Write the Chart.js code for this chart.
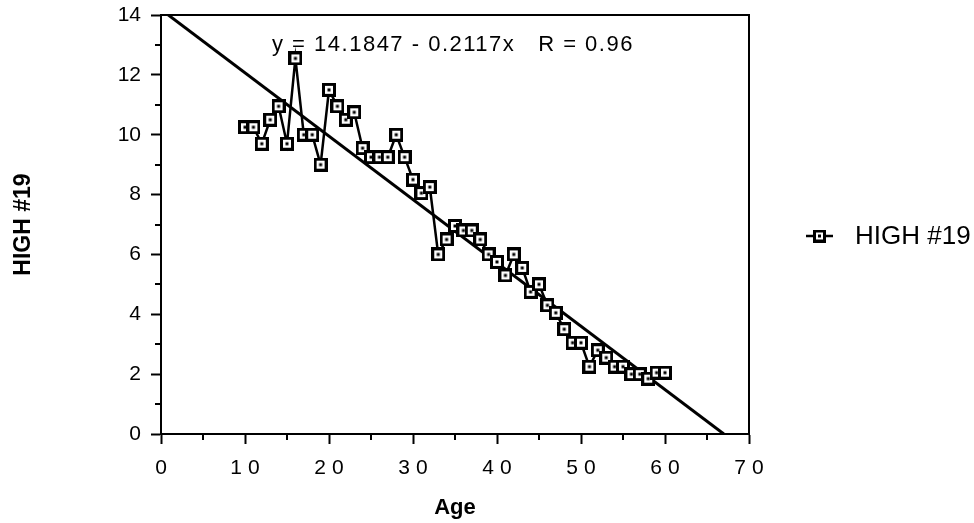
<!DOCTYPE html>
<html>
<head>
<meta charset="utf-8">
<script src="https://cdn.jsdelivr.net/npm/chart.js@4"></script>
<style>
  html, body { margin: 0; padding: 0; background: #fff; }
  #chart { display: block; }
</style>
</head>
<body>
<canvas id="chart" width="974" height="523"></canvas>
<script>
const ages = [10, 11, 12, 13, 14, 15, 16, 17, 18, 19, 20, 21, 22, 23, 24, 25, 26, 27, 28, 29, 30, 31, 32, 33, 34, 35, 36, 37, 38, 39, 40, 41, 42, 43, 44, 45, 46, 47, 48, 49, 50, 51, 52, 53, 54, 55, 56, 57, 58, 59, 60];
const highValues = [10.25, 10.25, 9.7, 10.5, 10.95, 9.7, 12.55, 10.0, 10.0, 9.0, 11.5, 10.95, 10.5, 10.75, 9.55, 9.25, 9.25, 9.25, 10.0, 9.25, 8.5, 8.05, 8.25, 6.0, 6.5, 6.95, 6.8, 6.8, 6.5, 6.0, 5.75, 5.3, 6.0, 5.55, 4.75, 5.0, 4.3, 4.05, 3.5, 3.05, 3.05, 2.25, 2.8, 2.55, 2.25, 2.25, 2.0, 2.0, 1.85, 2.05, 2.05];
const xTickLabels = ["0", "10", "20", "30", "40", "50", "60", "70"];
const yTickLabels = ["0", "2", "4", "6", "8", "10", "12", "14"];
const xMinorTicks = [5, 15, 25, 35, 45, 55, 65];
const yMinorTicks = [1, 3, 5, 7, 9, 11, 13];
const seriesName = "HIGH #19";
const fitIntercept = 14.1847;
const fitSlope = -0.2117;
const fitLabel = "y = 14.1847 - 0.2117x   R = 0.96";

const FONT = "'Liberation Sans', Arial, Helvetica, sans-serif";

function makeMarker(size) {
  const c = document.createElement("canvas");
  c.width = size;
  c.height = size;
  const g = c.getContext("2d");
  g.fillStyle = "#000";
  g.fillRect(0, 0, size, size);
  g.fillStyle = "#fff";
  g.fillRect(3, 3, size - 6, size - 6);
  g.fillStyle = "#000";
  g.fillRect(size / 2 - 1.5, size / 2 - 1.5, 3, 3);
  return c;
}
const marker = makeMarker(14);
const legendMarker = makeMarker(13);

const points = ages.map((age, i) => ({ x: age, y: highValues[i] }));
const fitEnd = -fitIntercept / fitSlope;
const fitPoints = [{ x: 0, y: fitIntercept }, { x: fitEnd, y: fitIntercept + fitSlope * fitEnd }];

// x tick labels in the original are spaced out; they are drawn after the datasets
const spacingPlugin = {
  id: "spacing",
  afterDatasetsDraw(chart) { chart.ctx.letterSpacing = "6px"; },
  afterDraw(chart) { chart.ctx.letterSpacing = "0px"; }
};

const framePlugin = {
  id: "frame",
  afterDraw(chart) {
    const { ctx, chartArea: a, scales } = chart;
    ctx.save();
    ctx.letterSpacing = "0px";
    ctx.strokeStyle = "#000";
    ctx.lineWidth = 2;
    ctx.strokeRect(a.left, a.top, a.right - a.left, a.bottom - a.top);
    ctx.beginPath();
    yMinorTicks.forEach((v) => {
      const y = Math.round(scales.y.getPixelForValue(v));
      ctx.moveTo(a.left - 6, y);
      ctx.lineTo(a.left, y);
    });
    xMinorTicks.forEach((v) => {
      const x = Math.round(scales.x.getPixelForValue(v));
      ctx.moveTo(x, a.bottom);
      ctx.lineTo(x, a.bottom + 6);
    });
    ctx.stroke();
    // equation text inside the plot
    ctx.fillStyle = "#000";
    ctx.font = "22px " + FONT;
    ctx.letterSpacing = "1.5px";
    ctx.textAlign = "left";
    ctx.textBaseline = "middle";
    ctx.fillText(fitLabel, a.left + 111, a.top + 30);
    // legend at right
    const ly = 236;
    ctx.letterSpacing = "0px";
    ctx.lineWidth = 2.5;
    ctx.beginPath();
    ctx.moveTo(806, ly);
    ctx.lineTo(833, ly);
    ctx.stroke();
    ctx.drawImage(legendMarker, 819.5 - 6.5, ly - 6.5);
    ctx.font = "26px " + FONT;
    ctx.fillText(seriesName, 855, ly + 1);
    ctx.restore();
  }
};

new Chart(document.querySelector("#chart"), {
  type: "scatter",
  data: {
    datasets: [
      {
        label: seriesName,
        data: points,
        showLine: true,
        borderColor: "#000",
        borderWidth: 2.5,
        pointStyle: marker,
        pointRadius: 7,
        pointHoverRadius: 7
      },
      {
        label: "fit",
        data: fitPoints,
        showLine: true,
        borderColor: "#000",
        borderWidth: 3,
        pointRadius: 0,
        clip: 0
      }
    ]
  },
  options: {
    responsive: false,
    animation: false,
    devicePixelRatio: 1,
    layout: { padding: { top: 15, right: 225, bottom: 0, left: 0 } },
    plugins: { legend: { display: false }, tooltip: { enabled: false } },
    scales: {
      x: {
        type: "linear",
        min: 0,
        max: 70,
        afterFit: (scale) => { scale.height = 89; scale.paddingLeft = 0; scale.paddingRight = 0; },
        border: { display: true, color: "#000", width: 2 },
        grid: { drawOnChartArea: false, drawTicks: true, tickLength: 10, tickColor: "#000", tickWidth: 2 },
        ticks: {
          stepSize: 10,
          color: "#000",
          padding: 12,
          labelOffset: 3,
          maxRotation: 0,
          z: 1,
          font: { family: FONT, size: 21 },
          callback: (v) => xTickLabels[v / 10]
        },
        title: { display: true, text: "Age", color: "#000", font: { family: FONT, size: 22, weight: "bold" }, padding: { top: 0, bottom: 2 } }
      },
      y: {
        min: 0,
        max: 14,
        afterFit: (scale) => { scale.width = 161; scale.paddingTop = 0; scale.paddingBottom = 0; },
        border: { display: true, color: "#000", width: 2 },
        grid: { drawOnChartArea: false, drawTicks: true, tickLength: 10, tickColor: "#000", tickWidth: 2 },
        ticks: {
          stepSize: 2,
          color: "#000",
          padding: 10,
          font: { family: FONT, size: 21 },
          callback: (v) => yTickLabels[v / 2]
        },
        title: { display: true, text: seriesName, color: "#000", font: { family: FONT, size: 23, weight: "bold" }, padding: { top: 10, bottom: 0 } }
      }
    }
  },
  plugins: [spacingPlugin, framePlugin]
});
</script>
</body>
</html>
